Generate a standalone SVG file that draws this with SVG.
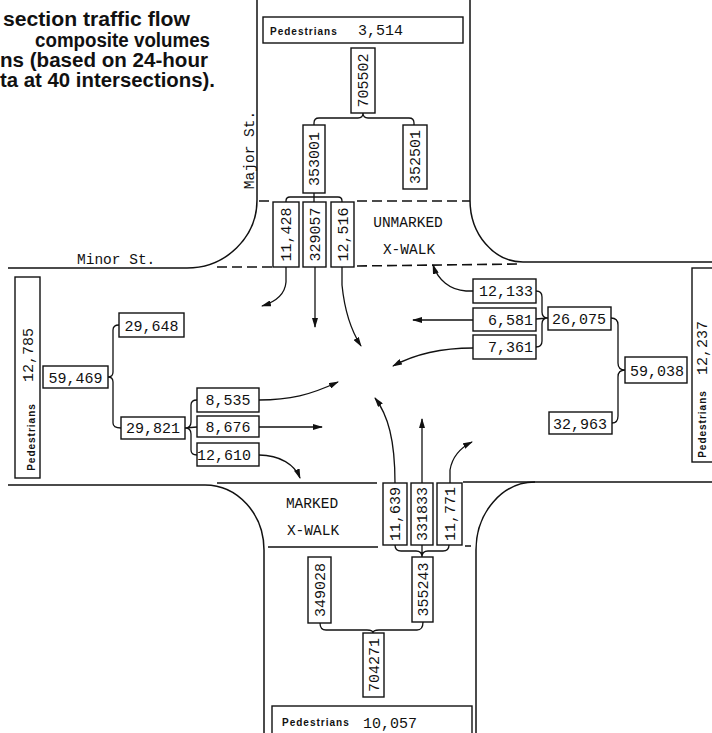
<svg xmlns="http://www.w3.org/2000/svg" width="712" height="733" viewBox="0 0 712 733">
<style>
.b{fill:#fff;stroke:#111;stroke-width:1.4}
.n{font-family:"Liberation Mono",monospace;font-size:15px;fill:#111}
.l{font-family:"Liberation Mono",monospace;font-size:14.5px;fill:#111}
.p{font-family:"Liberation Sans",Arial,sans-serif;font-weight:bold;font-size:10px;letter-spacing:1px;fill:#111}
.t{font-family:"Liberation Sans",Arial,sans-serif;font-weight:bold;font-size:20px;fill:#111}
.r{stroke:#111;stroke-width:1.5;fill:none}
.d{stroke:#111;stroke-width:1.6;fill:none;stroke-dasharray:10 5}
.c{stroke:#111;stroke-width:1.3;fill:none}
.a{stroke:#111;stroke-width:1.3;fill:none;marker-end:url(#ah)}
</style>
<defs>
<marker id="ah" viewBox="0 0 10 6" refX="9" refY="3" markerWidth="10" markerHeight="6" markerUnits="userSpaceOnUse" orient="auto">
<path d="M0,0 L10,3 L0,6 z" fill="#111"/>
</marker>
</defs>
<rect width="712" height="733" fill="#fff"/>

<g id="title">
<text class="t" x="3" y="26" textLength="187" lengthAdjust="spacingAndGlyphs">section traffic flow</text>
<text class="t" x="35" y="47" textLength="175" lengthAdjust="spacingAndGlyphs">composite volumes</text>
<text class="t" x="0" y="67" textLength="208" lengthAdjust="spacingAndGlyphs">ns (based on 24-hour</text>
<text class="t" x="0" y="87" textLength="215" lengthAdjust="spacingAndGlyphs">ta at 40 intersections).</text>
</g>

<g id="roads">
<path class="r" d="M257,0 L257,200 A70,68 0 0 1 187,268 L8,268"/>
<path class="r" d="M470,0 L470,200 A53,62 0 0 0 523,262 L712,262"/>
<path class="r" d="M8,485 L205,485 A59,65 0 0 1 264,550 L264,733"/>
<path class="r" d="M712,482 L535,482 A59,68 0 0 0 476,550 L476,733"/>
<path class="r" d="M463,482 L535,482"/>
<path class="r" d="M217,483 L377,483"/>
<path class="r" d="M268,547 L378,547 M465,546 L471,546"/>
<path class="d" d="M259,201 L273,201 M357,201 L470,201"/>
<path class="d" d="M217,267 L273,267 M357,266 L520,264"/>
<text class="l" x="77" y="264">Minor St.</text>
<text class="l" transform="translate(254,150) rotate(-90)" text-anchor="middle" font-size="15">Major St.</text>
<text class="l" x="408" y="227" text-anchor="middle">UNMARKED</text>
<text class="l" x="409" y="254" text-anchor="middle">X-WALK</text>
<text class="l" x="312" y="508" text-anchor="middle">MARKED</text>
<text class="l" x="313" y="535" text-anchor="middle">X-WALK</text>
</g>

<g id="connectors">
<path class="c" d="M363,113 Q363,118 358,118 L319,118 Q314,118 314,123 L314,125 M363,113 Q363,118 368,118 L409,118 Q414,118 414,123 L414,125"/>
<path class="c" d="M286,202 L286,201 Q286,197 290,197 L338,197 Q342,197 342,201 L342,202 M314,193 L314,202"/>
<path class="c" d="M108,377 Q113,377 113,372 L113,330 Q113,325 119,325 M108,377 Q113,377 113,382 L113,423 Q113,428 121,428"/>
<path class="c" d="M185,428 Q191,428 191,422 L191,405 Q191,400 197,400 M185,428 L197,427 M185,428 Q191,428 191,434 L191,450 Q191,455 197,455"/>
<path class="c" d="M625,370 Q618,370 618,363 L618,325 Q618,318 611,318 M625,370 Q618,370 618,377 L618,416 Q618,423 612,423"/>
<path class="c" d="M548,318 Q542,318 542,312 L542,297 Q542,291 536,291 M548,318 L536,319 M548,318 Q542,318 542,324 L542,341 Q542,347 536,347"/>
<path class="c" d="M395,545 Q395,551 401,551 L416,551 Q422,551 422,557 M449,545 Q449,551 443,551 L428,551 Q422,551 422,557 M422,545 L422,557"/>
<path class="c" d="M320,623 Q320,630 326,630 L367,630 Q373,630 373,633 M423,622 Q423,630 417,630 L379,630 Q373,630 373,633"/>
<path class="a" d="M286,267 L286,282 C285,295 275,302 262,306"/>
<path class="a" d="M315,267 L315,327"/>
<path class="a" d="M342,267 L342,285 C345,315 352,332 361,346"/>
<path class="a" d="M473,291 L466,291 C450,290 438,280 433,265"/>
<path class="a" d="M473,320 L413,320"/>
<path class="a" d="M473,348 C440,348 415,354 393,366"/>
<path class="a" d="M259,400 C290,400 310,395 338,382"/>
<path class="a" d="M259,427 L322,427"/>
<path class="a" d="M259,455 C280,455 295,465 300,478"/>
<path class="a" d="M395,483 C395,440 388,415 375,398"/>
<path class="a" d="M422,483 L422,419"/>
<path class="a" d="M450,483 L450,470 C452,458 460,448 472,442"/>
</g>

<g id="ped-top"><rect class="b" x="263" y="17" width="200" height="26"/><text class="p" x="270" y="35">Pedestrians</text><text class="n" x="358" y="35" font-size="16">3,514</text></g>
<g id="n705502"><rect class="b" x="351" y="48" width="24" height="65"/><text class="n" transform="translate(363,80.5) rotate(-90)" y="5" text-anchor="middle">705502</text></g>
<g id="n353001"><rect class="b" x="303" y="125" width="22" height="68"/><text class="n" transform="translate(314,159) rotate(-90)" y="5" text-anchor="middle">353001</text></g>
<g id="n352501"><rect class="b" x="403" y="125" width="24" height="64"/><text class="n" transform="translate(415,157) rotate(-90)" y="5" text-anchor="middle">352501</text></g>
<g id="n11428"><rect class="b" x="273" y="202" width="26" height="65"/><text class="n" transform="translate(286,234.5) rotate(-90)" y="5" text-anchor="middle">11,428</text></g>
<g id="n329057"><rect class="b" x="303" y="202" width="23" height="65"/><text class="n" transform="translate(314.5,234.5) rotate(-90)" y="5" text-anchor="middle">329057</text></g>
<g id="n12516"><rect class="b" x="331" y="202" width="23" height="65"/><text class="n" transform="translate(342.5,234.5) rotate(-90)" y="5" text-anchor="middle">12,516</text></g>

<g id="ped-left"><rect class="b" x="15" y="277" width="25" height="201"/><text class="n" transform="translate(28,355) rotate(-90)" y="5" text-anchor="middle">12,785</text><text class="p" transform="translate(31,437) rotate(-90)" y="4" text-anchor="middle">Pedestrians</text></g>
<g id="n59469"><rect class="b" x="43" y="366" width="65" height="22"/><text class="n" x="75.5" y="383" text-anchor="middle">59,469</text></g>
<g id="n29648"><rect class="b" x="119" y="313" width="65" height="24"/><text class="n" x="151.5" y="331" text-anchor="middle">29,648</text></g>
<g id="n29821"><rect class="b" x="121" y="417" width="64" height="22"/><text class="n" x="153" y="433" text-anchor="middle">29,821</text></g>
<g id="n8535"><rect class="b" x="197" y="388" width="62" height="24"/><text class="n" x="228" y="405" text-anchor="middle">8,535</text></g>
<g id="n8676"><rect class="b" x="197" y="416" width="62" height="21"/><text class="n" x="228" y="432" text-anchor="middle">8,676</text></g>
<g id="n12610"><rect class="b" x="197" y="443" width="62" height="23"/><text class="n" x="224" y="460" text-anchor="middle">12,610</text></g>

<g id="n12133"><rect class="b" x="473" y="279" width="63" height="24"/><text class="n" x="533" y="296" text-anchor="end">12,133</text></g>
<g id="n6581"><rect class="b" x="473" y="308" width="63" height="23"/><text class="n" x="533" y="325" text-anchor="end">6,581</text></g>
<g id="n7361"><rect class="b" x="473" y="335" width="63" height="24"/><text class="n" x="533" y="352" text-anchor="end">7,361</text></g>
<g id="n26075"><rect class="b" x="548" y="307" width="63" height="23"/><text class="n" x="579" y="324" text-anchor="middle">26,075</text></g>
<g id="n59038"><rect class="b" x="625" y="357" width="62" height="26"/><text class="n" x="657" y="376" text-anchor="middle">59,038</text></g>
<g id="n32963"><rect class="b" x="549" y="412" width="63" height="22"/><text class="n" x="580" y="429" text-anchor="middle">32,963</text></g>
<g id="ped-right"><rect class="b" x="692" y="268" width="30" height="194"/><text class="n" transform="translate(702,348) rotate(-90)" y="5" text-anchor="middle">12,237</text><text class="p" transform="translate(702,424) rotate(-90)" y="4" text-anchor="middle">Pedestrians</text></g>

<g id="n11639"><rect class="b" x="383" y="483" width="24" height="62"/><text class="n" transform="translate(395,514) rotate(-90)" y="5" text-anchor="middle">11,639</text></g>
<g id="n331833"><rect class="b" x="411" y="483" width="22" height="62"/><text class="n" transform="translate(422,514) rotate(-90)" y="5" text-anchor="middle">331833</text></g>
<g id="n11771"><rect class="b" x="437" y="483" width="25" height="62"/><text class="n" transform="translate(449.5,514) rotate(-90)" y="5" text-anchor="middle">11,771</text></g>
<g id="n349028"><rect class="b" x="308" y="557" width="23" height="66"/><text class="n" transform="translate(319.5,590) rotate(-90)" y="5" text-anchor="middle">349028</text></g>
<g id="n355243"><rect class="b" x="412" y="557" width="21" height="65"/><text class="n" transform="translate(422.5,589.5) rotate(-90)" y="5" text-anchor="middle">355243</text></g>
<g id="n704271"><rect class="b" x="363" y="633" width="21" height="64"/><text class="n" transform="translate(373.5,665) rotate(-90)" y="5" text-anchor="middle">704271</text></g>
<g id="ped-bottom"><rect class="b" x="272" y="706" width="200" height="40"/><text class="p" x="282" y="726">Pedestrians</text><text class="n" x="363" y="728" font-size="16">10,057</text></g>
</svg>
